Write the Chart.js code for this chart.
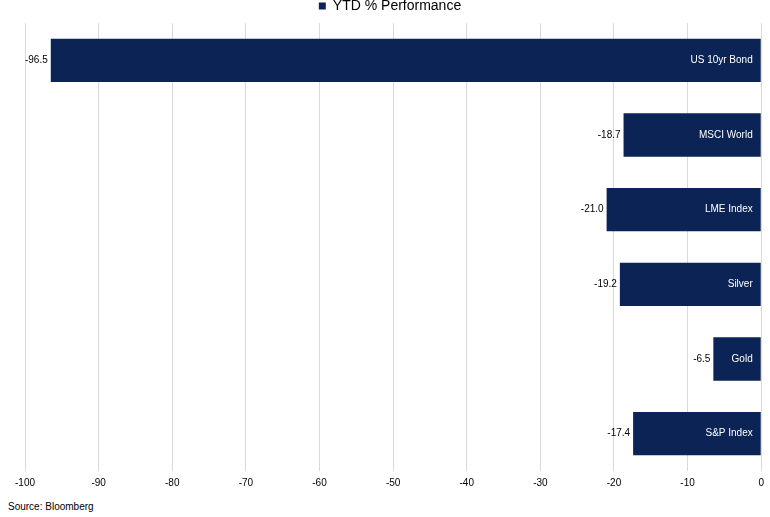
<!DOCTYPE html>
<html><head><script src="https://cdn.jsdelivr.net/npm/chart.js@4"></script>
<style>body{margin:0;background:#fff}#w{position:relative;width:770px;height:517px}
#src{position:absolute;left:8px;top:501px;font:10px "Liberation Sans",Arial;color:#000}</style></head>
<body><div id="w"><canvas id="c" width="770" height="495"></canvas><div id="src">Source: Bloomberg</div></div>
<script>
const categories=["US 10yr Bond","MSCI World","LME Index","Silver","Gold","S&P Index"];
const values=[-96.5,-18.7,-21.0,-19.2,-6.5,-17.4];
const seriesName="YTD % Performance";
const labelPlugin={id:"lbl",afterDatasetsDraw(ch){const ctx=ch.ctx;const m=ch.getDatasetMeta(0);
ctx.save();ctx.font='10px "Liberation Sans", Arial';ctx.textBaseline="middle";
m.data.forEach((b,i)=>{ctx.fillStyle="#000";ctx.textAlign="right";ctx.fillText(values[i].toFixed(1),b.x-3,b.y);
ctx.fillStyle="#fff";ctx.fillText(categories[i],b.base-8,b.y);});ctx.restore();}};
new Chart(document.getElementById("c"),{type:"bar",data:{labels:categories,datasets:[{label:seriesName,data:values,backgroundColor:"#0c2355",categoryPercentage:1,barPercentage:0.58}]},
options:{indexAxis:"y",responsive:false,animation:false,layout:{padding:{left:17,right:7,top:-2,bottom:0}},
plugins:{legend:{labels:{boxWidth:7,boxHeight:7,font:{size:14,family:"Liberation Sans"},color:"#000",padding:1}},tooltip:{enabled:false}},
scales:{x:{min:-100,max:0,ticks:{stepSize:10,padding:6,font:{size:10,family:"Liberation Sans"},color:"#000"},grid:{color:"#d9d9d9",drawTicks:false},border:{display:false}},
y:{ticks:{display:false},grid:{display:false},border:{display:false}}}},plugins:[labelPlugin]});
</script></body></html>
